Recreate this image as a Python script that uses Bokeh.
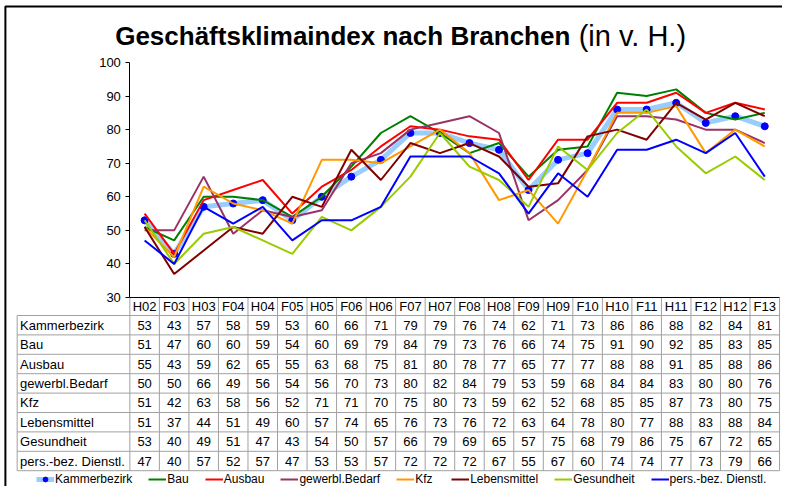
from bokeh.plotting import figure
from bokeh.models import Range1d, LinearAxis, FixedTicker, Legend, LegendItem
from bokeh.embed import file_html
from bokeh.resources import INLINE
from bokeh.core.properties import value

periods = ["H02", "F03", "H03", "F04", "H04", "F05", "H05", "F06", "H06", "F07", "H07",
           "F08", "H08", "F09", "H09", "F10", "H10", "F11", "H11", "F12", "H12", "F13"]

kammerbezirk = [53, 43, 57, 58, 59, 53, 60, 66, 71, 79, 79, 76, 74, 62, 71, 73, 86, 86, 88, 82, 84, 81]
bau = [51, 47, 60, 60, 59, 54, 60, 69, 79, 84, 79, 73, 76, 66, 74, 75, 91, 90, 92, 85, 83, 85]
ausbau = [55, 43, 59, 62, 65, 55, 63, 68, 75, 81, 80, 78, 77, 65, 77, 77, 88, 88, 91, 85, 88, 86]
gewerbl_bedarf = [50, 50, 66, 49, 56, 54, 56, 70, 73, 80, 82, 84, 79, 53, 59, 68, 84, 84, 83, 80, 80, 76]
kfz = [51, 42, 63, 58, 56, 52, 71, 71, 70, 75, 80, 73, 59, 62, 52, 68, 85, 85, 87, 73, 80, 75]
lebensmittel = [51, 37, 44, 51, 49, 60, 57, 74, 65, 76, 73, 76, 72, 63, 64, 78, 80, 77, 88, 83, 88, 84]
gesundheit = [53, 40, 49, 51, 47, 43, 54, 50, 57, 66, 79, 69, 65, 57, 75, 68, 79, 86, 75, 67, 72, 65]
pers_dienstl = [47, 40, 57, 52, 57, 47, 53, 53, 57, 72, 72, 72, 67, 55, 67, 60, 74, 74, 77, 73, 79, 66]

series_names = ["Kammerbezirk", "Bau", "Ausbau", "gewerbl.Bedarf", "Kfz",
                "Lebensmittel", "Gesundheit", "pers.-bez. Dienstl."]
series_values = [kammerbezirk, bau, ausbau, gewerbl_bedarf, kfz, lebensmittel, gesundheit, pers_dienstl]
series_colors = ["#99CCFF", "#008000", "#FF0000", "#993366", "#FF9900", "#800000", "#99CC00", "#0000FF"]

y_ticks = [30, 40, 50, 60, 70, 80, 90, 100]

FONT = value("Liberation Sans")

# ---- layout geometry (in reference pixel space) ----
VIEW_X0, VIEW_X1 = 0.0, 798.0     # horizontal span of reference shown on canvas
VIEW_Y0, VIEW_Y1 = 0.0, 486.0     # vertical span of reference shown on canvas
AX_X, COL_END = 132.0, 795.0
COLW = (COL_END - AX_X) / len(periods)
Y_TOP_PX, Y_BOT_PX = 62.0, 297.0
PX_PER_UNIT = (Y_BOT_PX - Y_TOP_PX) / (100 - 30)


def px_x(X):
    return (X - AX_X) / COLW - 0.5


x_range = Range1d(px_x(VIEW_X0), px_x(VIEW_X1))
y_range = Range1d(30 - (VIEW_Y1 - Y_BOT_PX) / PX_PER_UNIT, 100 + (Y_TOP_PX - VIEW_Y0) / PX_PER_UNIT)

p = figure(width=782, height=486, x_range=x_range, y_range=y_range,
           output_backend="svg", toolbar_location=None,
           x_axis_location=None, y_axis_location=None, title=None,
           min_border=0, outline_line_color=None)
p.extra_y_ranges = {"py": Range1d(VIEW_Y1, VIEW_Y0)}
p.extra_x_ranges = {"px": Range1d(VIEW_X0, VIEW_X1)}
p.xgrid.visible = False
p.ygrid.visible = False

# outer frame (left and top edges visible)
p.line(x=[5, 5, VIEW_X1 + 5], y=[VIEW_Y1 + 5, 6, 6], x_range_name="px", y_range_name="py",
       line_color="black", line_width=2)

# title
p.text(x=[117], y=[35], text=["Geschäftsklimaindex nach Branchen"], x_range_name="px", y_range_name="py",
       text_font=FONT, text_font_style="bold", text_font_size="26px", text_color="black",
       text_baseline="alphabetic", text_align="left")
p.text(x=[590], y=[35], text=["(in v. H.)"], x_range_name="px", y_range_name="py",
       text_font=FONT, text_font_size="29px", text_color="black",
       text_baseline="alphabetic", text_align="left")

# y axis
yaxis = LinearAxis(fixed_location=-0.5, bounds=(30, 100), ticker=FixedTicker(ticks=y_ticks))
yaxis.major_tick_out = 4
yaxis.major_tick_in = 0
yaxis.minor_tick_out = 0
yaxis.minor_tick_in = 0
yaxis.axis_line_color = "black"
yaxis.major_tick_line_color = "black"
yaxis.major_label_text_font = "Liberation Sans"
yaxis.major_label_text_font_size = "13px"
yaxis.major_label_text_color = "black"
yaxis.major_label_standoff = 5
p.add_layout(yaxis, "left")

# ---- table ----
HEAD_TOP, HEAD_BOT = 297.0, 315.0
ROW_H = 19.4
n_rows = len(series_names)
table_bot = HEAD_BOT + n_rows * ROW_H
grid_col = "#A0A0A0"

hx0, hx1, hy = [], [], []
for k in range(n_rows + 1):
    hx0.append(px_x(17)); hx1.append(len(periods) - 0.5); hy.append(HEAD_BOT + k * ROW_H)
p.segment(x0=hx0, y0=hy, x1=hx1, y1=hy, y_range_name="py", line_color=grid_col, line_width=1)
vx = [i - 0.5 for i in range(len(periods) + 1)]
p.segment(x0=vx, y0=[HEAD_TOP] * len(vx), x1=vx, y1=[table_bot] * len(vx), y_range_name="py",
          line_color=grid_col, line_width=1)
p.segment(x0=[px_x(17)], y0=[HEAD_BOT], x1=[px_x(17)], y1=[table_bot], y_range_name="py",
          line_color=grid_col, line_width=1)
# x axis line (bottom of chart)
p.segment(x0=[-0.5], y0=[30], x1=[len(periods) - 0.5], y1=[30], line_color="black", line_width=1)

xs = list(range(len(periods)))
p.text(x=xs, y=[(HEAD_TOP + HEAD_BOT) / 2] * len(xs), text=periods, y_range_name="py",
       text_font=FONT, text_font_size="13px", text_color="black",
       text_align="center", text_baseline="middle")

cx, cy, ct, lx, ly = [], [], [], [], []
for r, vals in enumerate(series_values):
    yc = HEAD_BOT + (r + 0.5) * ROW_H
    lx.append(px_x(20)); ly.append(yc)
    for i, v in enumerate(vals):
        cx.append(i); cy.append(yc); ct.append(str(v))
p.text(x=cx, y=cy, text=ct, y_range_name="py", text_font=FONT, text_font_size="13px",
       text_color="black", text_align="center", text_baseline="middle")
p.text(x=lx, y=ly, text=series_names, y_range_name="py", text_font=FONT, text_font_size="13px",
       text_color="black", text_align="left", text_baseline="middle")

# ---- lines ----
items = []
k_line = p.line(xs, kammerbezirk, line_color=series_colors[0], line_width=5)
k_dots = p.scatter(xs, kammerbezirk, size=7, fill_color="#0000FF", line_color="#0000FF")
items.append(LegendItem(label=series_names[0], renderers=[k_line, k_dots]))
for name, vals, col in zip(series_names[1:], series_values[1:], series_colors[1:]):
    r = p.line(xs, vals, line_color=col, line_width=2)
    items.append(LegendItem(label=name, renderers=[r]))

legend = Legend(items=items, orientation="horizontal", location=(36, 0),
                glyph_width=18, glyph_height=12, label_height=12, label_standoff=1,
                spacing=16, padding=0, margin=0, border_line_color=None,
                background_fill_alpha=0, label_text_font="Liberation Sans",
                label_text_font_size="12px", label_text_color="black")
p.add_layout(legend)

open("out.html", "w").write(file_html(p, INLINE))
